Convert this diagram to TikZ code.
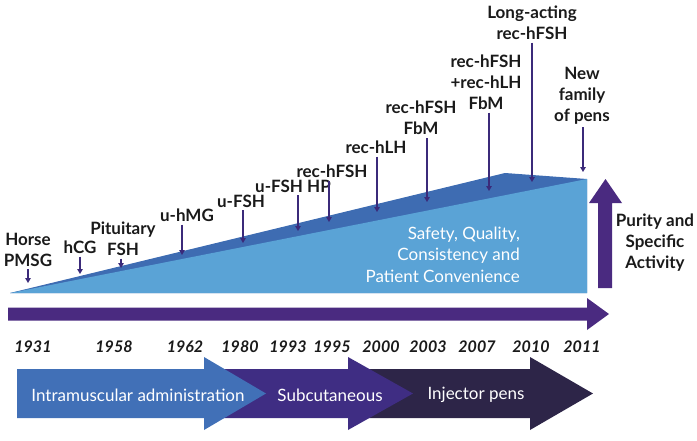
\documentclass[tikz,border=0pt]{standalone}
\usepackage{fontspec}
\setmainfont{Lato}
\usetikzlibrary{arrows.meta}
\definecolor{lightblue}{HTML}{5AA3D6}
\definecolor{bandblue}{HTML}{3E6CB2}
\definecolor{tlpurple}{HTML}{4A2A80}
\definecolor{arrpurple}{HTML}{3B2A7A}
\definecolor{imblue}{HTML}{4170B7}
\definecolor{scpurple}{HTML}{3F2D83}
\definecolor{pendark}{HTML}{2D2548}
\definecolor{labtext}{HTML}{1A1A1A}
\tikzset{
  lab/.style={font=\fontsize{17}{21}\selectfont\bfseries, align=center, text=labtext, inner sep=0pt},
  yr/.style={font=\fontsize{16}{19}\selectfont\bfseries\itshape, text=labtext, inner sep=0pt},
  arr/.style={draw=arrpurple, line width=1.3pt, -{Triangle[length=5pt,width=5.5pt]}},
  bartext/.style={font=\fontsize{17}{19}\selectfont, text=white, inner sep=0pt},
  white text/.style={font=\fontsize{17}{21.5}\selectfont, text=white, align=right, inner sep=0pt}
}
\begin{document}
\begin{tikzpicture}[x=1pt,y=-1pt]
\useasboundingbox (0,0) rectangle (697,440);
% ramp
\fill[bandblue] (10,293) -- (505,173) -- (587,179) -- (587,293) -- cycle;
\fill[lightblue] (10,293) -- (587,179) -- (587,293) -- cycle;
\node[white text, anchor=east] (safety) at (520,254.5) {Safety, Quality,\\Consistency and\\Patient Convenience};
% timeline arrow
\fill[tlpurple] (8,307.5) -- (587,307.5) -- (587,298) -- (609,314) -- (587,330) -- (587,320.5) -- (8,320.5) -- cycle;
% purity arrow
\fill[tlpurple] (598,288) -- (598,203) -- (589,203) -- (605.5,179) -- (622,203) -- (612,203) -- (612,288) -- cycle;
\node[lab] (purity) at (655,242.5) {Purity and\\Specific\\Activity};
% labels
\node[lab] (l1) at (28,249.5) {Horse\\PMSG};
\node[lab] (l2) at (80,247) {hCG};
\node[lab] (l3) at (123,238.5) {Pituitary\\FSH};
\node[lab] (l4) at (187,215) {u-hMG};
\node[lab] (l5) at (241,201) {u-FSH};
\node[lab] (l6) at (293,186) {u-FSH HP};
\node[lab] (l7) at (332,171.5) {rec-hFSH};
\node[lab] (l8) at (376,147) {rec-hLH};
\node[lab] (l9) at (421,118) {rec-hFSH\\FbM};
\node[lab] (l10) at (486,82) {rec-hFSH\\+rec-hLH\\FbM};
\node[lab] (l11) at (532,22.5) {Long-acting\\rec-hFSH};
\node[lab] (l12) at (582,95.5) {New\\family\\of pens};
% arrow ends
\coordinate (e1) at (28,283);
\coordinate (e2) at (80,274);
\coordinate (e3) at (121,268);
\coordinate (e4) at (182,255);
\coordinate (e5) at (243,243);
\coordinate (e6) at (298,231);
\coordinate (e7) at (329,222);
\coordinate (e8) at (377,212);
\coordinate (e9) at (427,202);
\coordinate (e10) at (489,191);
\coordinate (e11) at (532,182);
\coordinate (e12) at (583,172);
\foreach \i in {1,...,12} {\draw[arr] ([yshift=-3pt]l\i.south -| e\i) -- (e\i);}
% years
\node[yr] (y1) at (33,347) {1931};
\node[yr] (y2) at (114,347) {1958};
\node[yr] (y3) at (185,347) {1962};
\node[yr] (y4) at (240,347) {1980};
\node[yr] (y5) at (288,347) {1993};
\node[yr] (y6) at (332,347) {1995};
\node[yr] (y7) at (381,347) {2000};
\node[yr] (y8) at (428,347) {2003};
\node[yr] (y9) at (477,347) {2007};
\node[yr] (y10) at (531,347) {2010};
\node[yr] (y11) at (582,347) {2011};
% bottom arrows
\fill[pendark] (360,369) -- (530,369) -- (530,357) -- (593,393.5) -- (530,430) -- (530,418) -- (360,418) -- cycle;
\fill[scpurple] (220,369) -- (348,369) -- (348,357) -- (413,393.5) -- (348,430) -- (348,418) -- (220,418) -- cycle;
\fill[imblue] (17,369) -- (204,369) -- (204,357) -- (266,393.5) -- (204,430) -- (204,418) -- (17,418) -- cycle;
\node[bartext] (im) at (138,395) {Intramuscular administration};
\node[bartext] (sc) at (330,395) {Subcutaneous};
\node[bartext] (ip) at (476,395) {Injector pens};
\end{tikzpicture}
\end{document}
